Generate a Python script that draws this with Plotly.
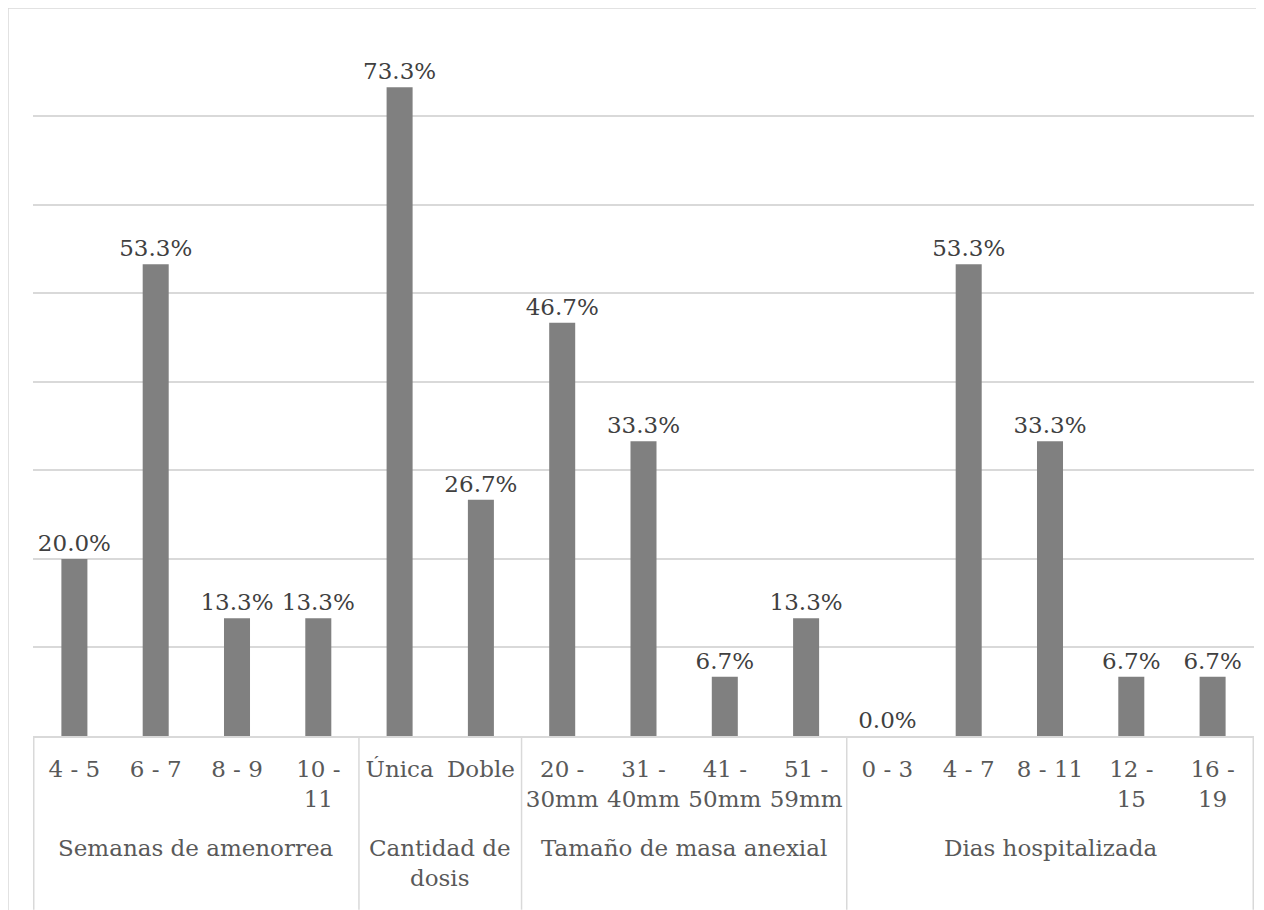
import plotly.graph_objects as go

# category axis: first level (categories) and second level (groups)
categories = ["4 - 5", "6 - 7", "8 - 9", "10 -<br>11",
              "Única", "Doble",
              "20 -<br>30mm", "31 -<br>40mm", "41 -<br>50mm", "51 -<br>59mm",
              "0 - 3", "4 - 7", "8 - 11", "12 -<br>15", "16 -<br>19"]
percent = [20.0, 53.3, 13.3, 13.3,
           73.3, 26.7,
           46.7, 33.3, 6.7, 13.3,
           0.0, 53.3, 33.3, 6.7, 6.7]
group_names = ["Semanas de amenorrea", "Cantidad de<br>dosis",
               "Tamaño de masa anexial", "Dias hospitalizada"]
group_sizes = [4, 2, 4, 5]

FONT = "DejaVu Serif"
SIZE = 23
GRID = "#d9d9d9"

fig = go.Figure()
fig.add_trace(go.Bar(
    x=categories,
    y=percent,
    marker=dict(color="#808080", line=dict(width=0)),
    texttemplate="%{y:.1f}%",
    textposition="outside",
    constraintext="none",
    textfont=dict(family=FONT, size=SIZE, color="#404040"),
    cliponaxis=False,
    hoverinfo="skip",
))

# group labels and divider lines below the axis
start = 0
fig.add_shape(type="line", xref="x", yref="paper", x0=-0.5, x1=-0.5,
              y0=0, y1=-0.245, line=dict(color=GRID, width=1.5))
for name, size in zip(group_names, group_sizes):
    end = start + size
    fig.add_annotation(x=(start + end - 1) / 2, y=-0.1368, xref="x", yref="paper",
                       text=name, showarrow=False, yanchor="top",
                       font=dict(family=FONT, size=SIZE, color="#595959"))
    fig.add_shape(type="line", xref="x", yref="paper", x0=end - 0.5, x1=end - 0.5,
                  y0=0, y1=-0.245, line=dict(color=GRID, width=1.5))
    start = end

# outer chart border (the picture is cropped on the right and bottom)
fig.add_shape(type="rect", xref="paper", yref="paper",
              x0=-25 / 1221, x1=1.05, y0=-0.5, y1=1 + 19 / 709,
              line=dict(color=GRID, width=1.5), layer="below")

fig.update_layout(
    width=1256, height=902,
    margin=dict(l=25, r=10, t=19, b=174),
    paper_bgcolor="white", plot_bgcolor="white",
    bargap=0.68,
    showlegend=False,
    font=dict(family=FONT, size=SIZE, color="#595959"),
)
fig.update_xaxes(
    type="category",
    showline=True, linecolor=GRID, linewidth=1.5,
    ticks="", tickfont=dict(family=FONT, size=SIZE, color="#595959"),
    ticklabelstandoff=12,
    showgrid=False,
)
fig.update_yaxes(
    range=[0, 80.1], dtick=10,
    showticklabels=False, showgrid=True,
    gridcolor=GRID, gridwidth=1.5,
    zeroline=False,
)

fig.write_html("out.html")
